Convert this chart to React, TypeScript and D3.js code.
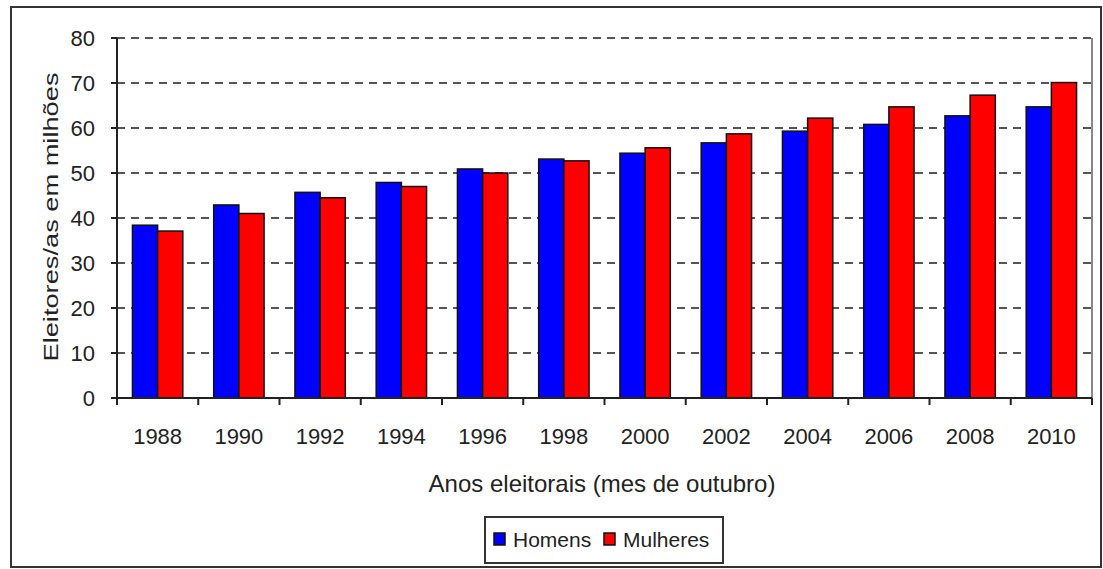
import React from "react";
import * as d3 from "d3";

const anos = ["1988", "1990", "1992", "1994", "1996", "1998", "2000", "2002", "2004", "2006", "2008", "2010"];
const homens = [38.4, 42.9, 45.7, 47.9, 50.9, 53.1, 54.4, 56.7, 59.3, 60.8, 62.7, 64.7];
const mulheres = [37.1, 41.0, 44.5, 47.0, 50.0, 52.7, 55.6, 58.7, 62.2, 64.7, 67.3, 70.1];
const yTicks = [0, 10, 20, 30, 40, 50, 60, 70, 80];
const series = [
  { nome: "Homens", valores: homens, cor: "#0000ff" },
  { nome: "Mulheres", valores: mulheres, cor: "#ff0000" },
];

const W = 1103;
const H = 569;
const plot = { left: 117, right: 1092, top: 38, bottom: 398 };
const font = "'Liberation Sans', Arial, sans-serif";

const App = () => {
  const x = d3.scaleBand().domain(anos).range([plot.left, plot.right]).paddingInner(0.38).paddingOuter(0.19);
  const xi = d3.scaleBand().domain(series.map((s) => s.nome)).range([0, x.bandwidth()]);
  const y = d3.scaleLinear().domain([0, 80]).range([plot.bottom, plot.top]);
  const step = x.step();

  return (
    <svg width={W} height={H} style={{ position: "absolute", left: 0, top: 0, background: "#fff" }}>
      {/* moldura externa */}
      <rect x={11} y={7} width={1090} height={560} fill="none" stroke="#333" strokeWidth={2} />

      {/* borda direita da área do gráfico */}
      <line x1={plot.right} x2={plot.right} y1={plot.top} y2={plot.bottom} stroke="#888" strokeWidth={2} />

      {/* grade */}
      {yTicks.filter((t) => t > 0).map((t) => (
        <line key={t} x1={plot.left} x2={plot.right} y1={y(t)} y2={y(t)} stroke="#555" strokeWidth={2} strokeDasharray="8,6" />
      ))}

      {/* barras */}
      {anos.map((ano, i) => (
        <g key={ano} transform={`translate(${x(ano)},0)`}>
          {series.map((s) => (
            <rect
              key={s.nome}
              x={xi(s.nome)}
              y={y(s.valores[i])}
              width={xi.bandwidth()}
              height={y(0) - y(s.valores[i])}
              fill={s.cor}
              stroke="#111"
              strokeWidth={1.5}
            />
          ))}
        </g>
      ))}

      {/* eixos */}
      <line x1={plot.left} x2={plot.left} y1={plot.top} y2={plot.bottom} stroke="#222" strokeWidth={2} />
      <line x1={plot.left - 6} x2={plot.right} y1={plot.bottom} y2={plot.bottom} stroke="#222" strokeWidth={2} />
      {yTicks.map((t) => (
        <g key={t}>
          <line x1={plot.left - 6} x2={plot.left} y1={y(t)} y2={y(t)} stroke="#222" strokeWidth={2} />
          <text x={plot.left - 22} y={y(t)} dy="0.36em" textAnchor="end" fontFamily={font} fontSize={22} fill="#222">
            {t}
          </text>
        </g>
      ))}
      {anos.map((ano, i) => (
        <g key={ano}>
          <line x1={plot.left + step * i} x2={plot.left + step * i} y1={plot.bottom} y2={plot.bottom + 7} stroke="#222" strokeWidth={2} />
          <text x={x(ano)! + x.bandwidth() / 2} y={444} textAnchor="middle" fontFamily={font} fontSize={22} fill="#222">
            {ano}
          </text>
        </g>
      ))}
      <line x1={plot.right} x2={plot.right} y1={plot.bottom} y2={plot.bottom + 7} stroke="#222" strokeWidth={2} />

      {/* títulos dos eixos */}
      <text x={602} y={492} textAnchor="middle" fontFamily={font} fontSize={24} fill="#222">
        Anos eleitorais (mes de outubro)
      </text>
      <text
        transform="translate(58,217) rotate(-90)"
        textAnchor="middle"
        fontFamily={font}
        fontSize={21}
        fill="#222"
        textLength={289}
        lengthAdjust="spacingAndGlyphs"
      >
        Eleitores/as em milhões
      </text>

      {/* legenda */}
      <rect x={485} y={517} width={238} height={46} fill="#fff" stroke="#333" strokeWidth={2} />
      {series.map((s, i) => (
        <g key={s.nome} transform={`translate(${494 + i * 110},0)`}>
          <rect x={0} y={533} width={11} height={12} fill={s.cor} stroke="#111" strokeWidth={1.5} />
          <text x={19} y={547} fontFamily={font} fontSize={21} fill="#222">
            {s.nome}
          </text>
        </g>
      ))}
    </svg>
  );
};

export default App;
